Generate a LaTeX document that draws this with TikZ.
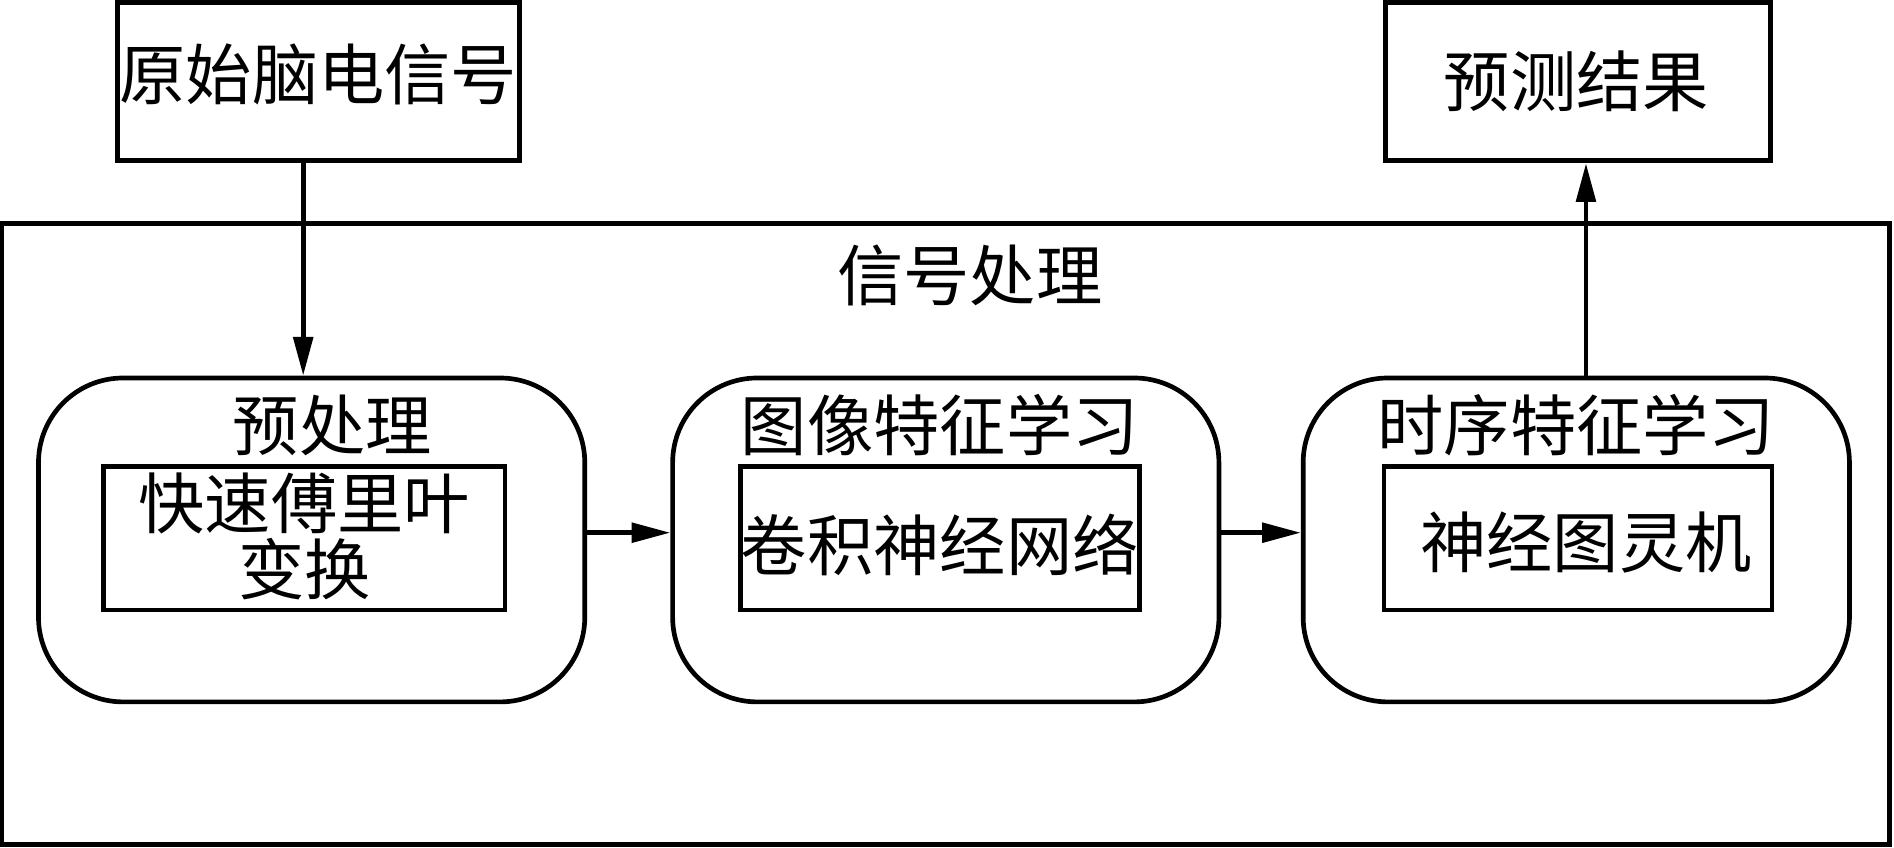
\documentclass[tikz,border=0pt]{standalone}
\usepackage{fontspec}
\newfontfamily\cjk{Noto Sans CJK SC}
\usetikzlibrary{arrows.meta}
\begin{document}
\begin{tikzpicture}[x=0.01cm,y=-0.01cm,
  font=\cjk\fontsize{15.6pt}{15.4pt}\selectfont,
  plainbox/.style={draw, line width=1.2pt, inner sep=0pt},
  roundbox/.style={draw, line width=1.1pt, rounded corners=0.7cm, inner sep=0pt,
    minimum width=4.52cm, minimum height=2.68cm},
  innerbox/.style={draw, line width=1.1pt, inner sep=0pt, minimum height=1.19cm},
  txt/.style={inner sep=0pt, align=center},
  arr/.style={line width=1.1pt, -{Triangle[length=0.32cm,width=0.16cm]}}]
\useasboundingbox (0,0) rectangle (1568,702);
% outer frame
\node[plainbox, minimum width=15.62cm, minimum height=5.14cm] (frame) at (783,442) {};
\node[txt] (title) at (803,228) {信号处理};
% top boxes
\node[plainbox, minimum width=3.33cm, minimum height=1.31cm] (src) at (263.5,67.5) {};
\node[txt] (srct) at (263.5,62) {原始脑电信号};
\node[plainbox, minimum width=3.19cm, minimum height=1.31cm] (res) at (1306.5,67.5) {};
\node[txt] (rest) at (1305,67) {预测结果};
% rounded boxes
\node[roundbox] (b1) at (258,447) {};
\node[roundbox] (b2) at (783,447) {};
\node[roundbox] (b3) at (1305,447) {};
\node[txt] (l1) at (275,352) {预处理};
\node[txt] (l2) at (778,352) {图像特征学习};
\node[txt] (l3) at (1305,352) {时序特征学习};
% inner boxes
\node[innerbox, minimum width=3.32cm] (i1) at (252,445.5) {};
\node[innerbox, minimum width=3.30cm] (i2) at (778,445.5) {};
\node[innerbox, minimum width=3.21cm] (i3) at (1306.5,445.5) {};
\node[txt] (t1) at (252,444) {快速傅里叶\\变换};
\node[txt] (t2) at (778,451) {卷积神经网络};
\node[txt] (t3) at (1313,449) {神经图灵机};
% connectors
\draw[arr] (src.south -| 251,0) -- (b1.north -| 251,0);
\draw[arr] (b3.north -| 1313,0) -- (res.south -| 1313,0);
\draw[arr] (b1.east |- 0,441) -- (b2.west |- 0,441);
\draw[arr] (b2.east |- 0,441) -- (b3.west |- 0,441);
\end{tikzpicture}
\end{document}
